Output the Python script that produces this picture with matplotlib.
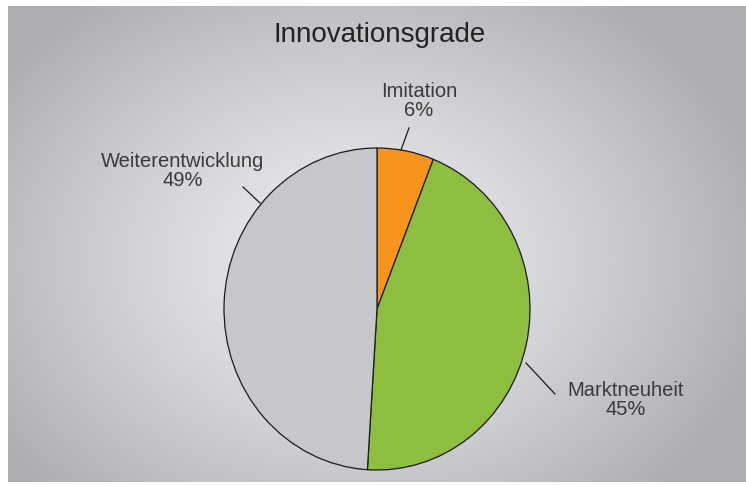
import numpy as np
import matplotlib.pyplot as plt

# Data
labels = ['Imitation', 'Marktneuheit', 'Weiterentwicklung']
shares = [6, 45, 49]
colors = ['#f7941d', '#8dbe3f', '#c6c7ca']
title = 'Innovationsgrade'

W, H = 746, 486
plt.rcParams['font.family'] = ['Liberation Sans', 'DejaVu Sans']

fig = plt.figure(figsize=(W / 100, H / 100), dpi=100)
fig.patch.set_facecolor('white')


def fx(x):
    return x / W


def fy(y):
    return 1 - y / H


# Background panel with radial gradient
bg = fig.add_axes([fx(8), fy(482), (746 - 8) / W, (482 - 6) / H])
gx, gy = np.meshgrid(np.arange(8, 746), np.arange(6, 482))
d = np.sqrt(((gx - 350) / 430.0) ** 2 + ((gy - 260) / 330.0) ** 2)
d = np.clip(d, 0, 1)
light = np.array([236, 237, 239]) / 255
dark = np.array([172, 173, 177]) / 255
img = light[None, None, :] * (1 - d[..., None] ** 1.3) + dark[None, None, :] * d[..., None] ** 1.3
bg.imshow(img, aspect='auto', interpolation='bilinear')
bg.set_axis_off()

# Pie (slightly elliptical, as in the source)
cx, cy, rx, ry = 377, 309, 153, 161
ax = fig.add_axes([fx(cx - rx), fy(cy + ry), 2 * rx / W, 2 * ry / H])
wedges, _ = ax.pie(shares, colors=colors, startangle=90, counterclock=False,
                   wedgeprops=dict(edgecolor='#1a1a1a', linewidth=0.9))
ax.set_aspect('auto')
ax.set_xlim(-1, 1)
ax.set_ylim(-1, 1)
ax.set_axis_off()


def to_data(px, py):
    return (px - cx) / rx, (cy - py) / ry


# Leader lines and labels (pixel positions of the source layout)
leaders = [((401, 150), (409, 128)),
           ((526, 363), (555, 394)),
           ((260, 203), (243, 187))]
label_pos = [(419, 101), (626, 400), (183, 171)]
for lab, val, (p0, p1), (lx, ly) in zip(labels, shares, leaders, label_pos):
    x0, y0 = to_data(*p0)
    x1, y1 = to_data(*p1)
    ax.plot([x0, x1], [y0, y1], color='#1a1a1a', lw=0.9, clip_on=False)
    fig.text(fx(lx), fy(ly), f'{lab}\n{val}%', ha='center', va='center',
             fontsize=14.5, color='#3a3a3a', linespacing=1.05)

fig.text(fx(380), fy(35), title, ha='center', va='center',
         fontsize=20, color='#222222')

fig.savefig('out.png', dpi=100, facecolor='white')
